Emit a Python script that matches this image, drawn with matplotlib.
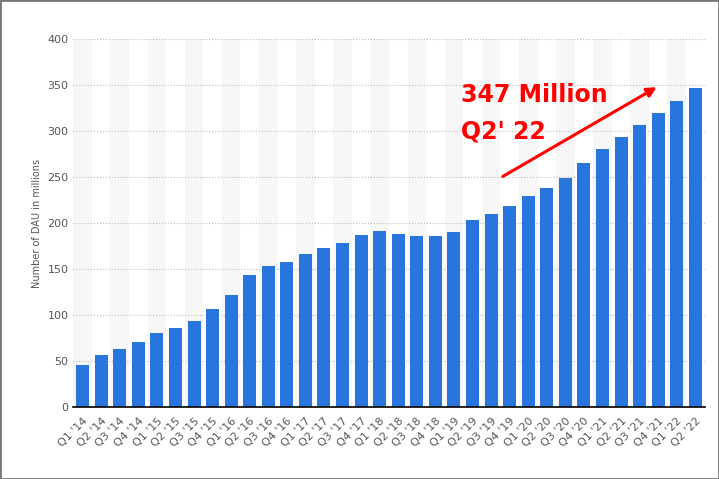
import matplotlib.pyplot as plt

quarters = ["Q1 '14", "Q2 '14", "Q3 '14", "Q4 '14", "Q1 '15", "Q2 '15", "Q3 '15", "Q4 '15",
            "Q1 '16", "Q2 '16", "Q3 '16", "Q4 '16", "Q1 '17", "Q2 '17", "Q3 '17", "Q4 '17",
            "Q1 '18", "Q2 '18", "Q3 '18", "Q4 '18", "Q1 '19", "Q2 '19", "Q3 '19", "Q4 '19",
            "Q1 '20", "Q2 '20", "Q3 '20", "Q4 '20", "Q1 '21", "Q2 '21", "Q3 '21", "Q4 '21",
            "Q1 '22", "Q2 '22"]
dau = [46, 57, 63, 71, 81, 86, 94, 107, 122, 143, 153, 158, 166, 173, 178, 187,
       191, 188, 186, 186, 190, 203, 210, 218, 229, 238, 249, 265, 280, 293, 306, 319,
       332, 347]

fig = plt.figure(figsize=(7.19, 4.79), dpi=100)
ax = fig.add_axes([0.102, 0.150, 0.878, 0.769])

# alternating background stripes
for i in range(len(quarters)):
    if i % 2 == 0:
        ax.axvspan(i - 0.5, i + 0.5, color="#f7f7f7", zorder=0, lw=0)

ax.bar(range(len(quarters)), dau, width=0.7, color="#2876dd", zorder=3)

ax.set_xlim(-0.5, len(quarters) - 0.5)
ax.set_ylim(0, 400)
ax.set_yticks(range(0, 401, 50))
ax.yaxis.grid(True, linestyle=":", color="#bbbbbb", zorder=1)
ax.set_xticks(range(len(quarters)))
ax.set_xticklabels(quarters, rotation=45, ha="right", rotation_mode="anchor", fontsize=8, color="#555555")
ax.tick_params(axis="y", labelsize=8, colors="#555555", length=0)
ax.tick_params(axis="x", length=0, pad=6)
for s in ["top", "right", "left"]:
    ax.spines[s].set_visible(False)
ax.spines["bottom"].set_color("black")
ax.spines["bottom"].set_linewidth(1.2)
ax.spines["bottom"].set_zorder(4)
ax.set_ylabel("Number of DAU in millions", fontsize=7, color="#555555")

ax.annotate("", xy=(31.05, 349), xytext=(22.5, 249),
            arrowprops=dict(arrowstyle="-|>", color="red", lw=2.2, mutation_scale=14), zorder=5)
ax.text(20.4, 339, "347 Million", color="red", fontsize=17, fontweight="bold", va="center")
ax.text(20.4, 299, "Q2' 22", color="red", fontsize=17, fontweight="bold", va="center")

fig.patches.append(plt.Rectangle((0, 0), 1, 1, transform=fig.transFigure, fill=False,
                                 edgecolor="#777777", lw=2))
fig.savefig("out.png", dpi=100)
